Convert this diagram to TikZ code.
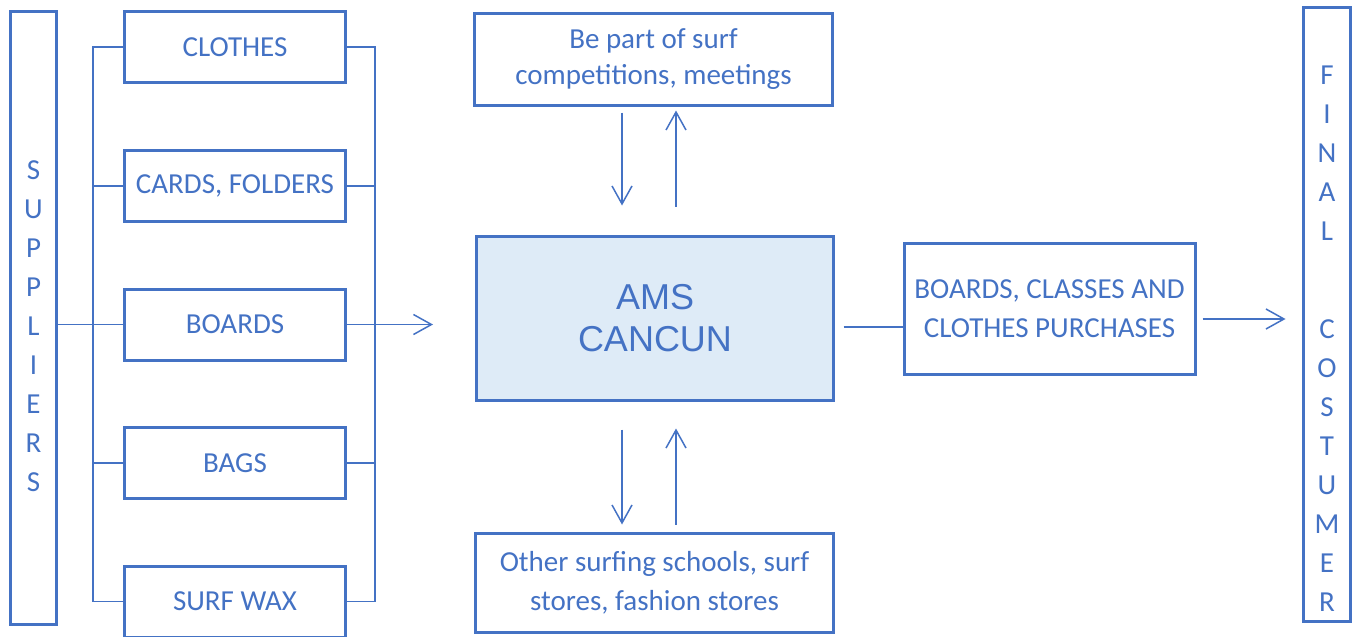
\documentclass[tikz,border=0pt]{standalone}
\usepackage{fontspec}
\setmainfont{Carlito}
\newfontfamily\arialfont{Liberation Sans}
\usetikzlibrary{arrows.meta}
\definecolor{msblue}{HTML}{4472C4}
\definecolor{msfill}{HTML}{DEEBF7}

\begin{document}
\begin{tikzpicture}[x=0.5pt,y=-0.5pt,
        box/.style={draw=msblue,line width=1.5pt,text=msblue,align=center,inner sep=0pt,
            font=\fontsize{14.5}{19.5}\selectfont},
        item/.style={box,minimum width=110.5pt,minimum height=35.5pt},
        link/.style={draw=msblue,line width=0.75pt},
        arr/.style={link,-{Straight Barb[length=9pt,width=10pt]}}]
    %\draw[help lines] (0,0) grid[step=100] (1356,637);
    \useasboundingbox (0,0) rectangle (1356,637);
    \node[box,minimum width=23pt,minimum height=306.5pt] (suppliers) at (33.5,318)
        {\rule{0pt}{18pt}S\\U\\P\\P\\L\\I\\E\\R\\S};
    \node[box,minimum width=23.5pt,minimum height=307pt] (costumer) at (1327,314.5)
        {\rule{0pt}{33pt}F\\I\\N\\A\\L\\[29.5pt]C\\O\\S\\T\\U\\M\\E\\R};
    \node[item] (clothes) at (235,47) {CLOTHES};
    \node[item] (cards) at (235,186) {CARDS, FOLDERS};
    \node[item] (boards) at (235,324.5) {BOARDS};
    \node[item] (bags) at (235,463) {BAGS};
    \node[item] (surfwax) at (235,601.5) {SURF WAX};
    \node[box,minimum width=179pt,minimum height=46pt,font=\fontsize{14.5}{18}\selectfont]
        (events) at (653.5,59.5) {Be part of surf\\competitions, meetings};
    \node[box,fill=msfill,minimum width=178.5pt,minimum height=82pt,
        font=\arialfont\fontsize{18}{21}\selectfont] (ams) at (655,318.5) {AMS\\CANCUN};
    \node[box,minimum width=179pt,minimum height=49.5pt] (others) at (654.5,583)
        {Other surfing schools, surf\\stores, fashion stores};
    \node[box,minimum width=145.5pt,minimum height=65.5pt] (sales) at (1049.5,309)
        {BOARDS, CLASSES AND\\CLOTHES PURCHASES};
    % supplier lines
    \draw[link] (suppliers.east |- boards.west) -- (boards.west);
    \draw[link] (clothes.west) -- ++(-15pt,0pt) coordinate (lbus) |- (surfwax.west);
    \foreach \n in {cards,bags}
        \draw[link] (\n.west) -- (\n.west -| lbus);
    \draw[link] (clothes.east) -- ++(14pt,0pt) coordinate (rbus) |- (surfwax.east);
    \foreach \n in {cards,boards,bags}
        \draw[link] (\n.east) -- (\n.east -| rbus);
    \draw[arr] (boards.east -| rbus) -- ++(29pt,0pt) coordinate (tocenter);
    % up and down
    \draw[arr,shorten <=2.75pt,shorten >=14.75pt] ([xshift=-15.75pt]events.south)
        -- ([xshift=-15.75pt]events.south |- ams.north);
    \draw[arr,shorten <=14.25pt,shorten >=1.75pt] ([xshift=10.5pt]ams.north)
        -- ([xshift=10.5pt]ams.north |- events.south);
    \draw[arr,shorten <=13.75pt,shorten >=3.75pt] ([xshift=-16.5pt]ams.south)
        -- ([xshift=-16.5pt]ams.south |- others.north);
    \draw[arr,shorten <=3.75pt,shorten >=13.25pt] ([xshift=10.75pt]others.north)
        -- ([xshift=10.75pt]others.north |- ams.south);
    % to the costumer
    \draw[link,shorten <=4.25pt] ([yshift=-4.25pt]ams.east) -- ([yshift=-4.25pt]ams.east -| sales.west);
    \draw[arr,shorten <=3pt,shorten >=8.25pt] ([yshift=-5pt]sales.east)
        -- ([yshift=-5pt]sales.east -| costumer.west);
\end{tikzpicture}
\end{document}
